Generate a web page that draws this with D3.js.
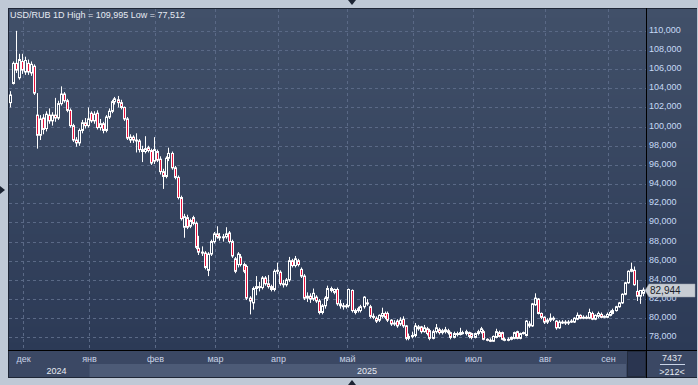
<!DOCTYPE html>
<html>
<head>
<meta charset="utf-8">
<script src="https://cdn.jsdelivr.net/npm/d3@7"></script>
<style>
body { margin: 0; background: #bfc9d6; }
text { font-family: "Liberation Sans", Arial, sans-serif; }
</style>
</head>
<body>
<script>
// daily candles, USD/RUB, 212 bars
var opens = [
102.5,104.5,106.6,105.1,106.8,105.7,106.6,105.6,106.3,101.2,
99.1,100.9,99.8,101.2,100.6,101.2,100.9,102.4,103.4,102.7,
101.7,100.1,98.6,98.3,99.6,100.4,100.1,101.4,100.6,101.4,
99.9,100.3,99.6,101.0,101.6,102.6,102.8,102.5,102.0,100.8,
98.6,98.9,98.6,98.5,97.6,97.4,97.8,97.5,96.4,97.4,
96.6,95.3,94.8,96.7,97.2,95.7,94.7,92.6,89.5,90.5,
89.6,90.5,89.9,87.3,86.9,86.8,85.0,86.7,88.0,88.8,
88.5,88.4,88.5,88.9,88.0,86.2,85.6,86.4,85.6,85.4,
82.1,81.6,83.1,83.3,83.2,84.2,83.6,83.3,83.0,84.9,
84.8,83.6,83.5,84.0,86.0,85.5,86.0,85.1,84.4,82.1,
82.3,82.0,82.2,81.8,80.6,81.3,82.1,83.1,82.7,83.0,
81.5,81.3,81.2,81.3,82.9,80.8,81.0,80.8,81.2,81.6,
81.2,80.2,80.0,79.8,80.2,80.5,80.5,79.8,79.4,79.7,
79.4,79.9,79.2,77.9,78.1,78.2,78.9,79.1,78.6,78.9,
78.7,77.9,78.6,78.8,78.5,78.6,78.7,78.5,78.0,78.4,
78.3,78.5,78.4,78.5,78.4,78.0,78.4,78.6,78.6,77.8,
77.7,77.6,78.0,78.5,78.5,77.8,77.8,77.8,77.9,78.6,
77.9,78.4,78.2,79.4,79.2,81.4,82.0,80.5,80.1,79.6,
79.8,80.0,79.7,79.0,79.6,79.6,79.5,79.6,79.6,79.9,
80.3,80.0,80.1,80.0,80.5,79.9,80.2,80.4,80.1,80.1,
80.3,80.5,80.8,81.2,81.6,82.5,83.7,84.9,85.0,82.8,
82.3,82.6
];
var highs = [
103.7,106.8,109.995,107.6,107.6,107.3,107.0,106.8,106.5,103.5,
101.2,101.3,101.6,101.9,101.5,103.0,102.7,104.2,103.6,102.9,
101.9,100.3,98.9,99.8,100.7,100.9,102.0,101.6,101.6,101.7,
100.8,100.5,101.2,101.9,102.8,103.1,103.2,102.8,102.1,101.0,
99.2,99.1,99.3,98.7,98.0,99.0,98.0,97.7,98.9,97.6,
96.9,95.6,96.9,97.8,97.4,95.9,94.9,92.8,90.9,90.8,
90.4,90.7,90.1,88.6,87.5,87.0,86.9,88.2,89.0,89.6,
88.9,88.8,89.5,89.1,88.2,86.4,86.9,86.7,85.8,85.6,
82.3,83.3,84.4,83.8,84.4,84.4,84.5,83.5,85.1,85.8,
85.0,84.0,84.2,86.4,86.2,86.5,86.2,85.3,84.6,82.7,
82.6,83.1,82.4,82.0,81.5,82.3,83.4,83.3,83.1,83.2,
81.9,81.6,81.5,83.1,83.0,81.0,81.2,81.4,82.3,82.0,
81.4,80.5,80.2,80.4,81.1,80.7,80.7,79.9,79.8,79.9,
80.1,80.2,79.3,78.4,78.6,79.5,79.3,79.2,79.3,79.1,
78.9,78.8,79.4,79.0,78.9,79.1,78.9,78.6,78.6,78.6,
79.0,78.7,78.8,78.6,78.5,78.5,78.8,79.1,78.8,77.9,
77.9,78.2,78.9,78.7,78.6,78.0,78.0,78.1,78.6,78.7,
78.5,78.6,79.8,79.7,81.6,82.6,82.1,80.6,80.2,80.0,
80.5,80.2,79.8,79.8,79.8,79.8,79.8,79.9,80.1,80.6,
80.4,80.3,80.3,81.0,80.7,80.4,80.7,80.6,80.3,80.6,
80.8,81.0,81.3,81.7,82.6,83.8,85.0,85.8,85.4,84.0,
82.9,83.2
];
var lows = [
102.0,104.4,105.6,104.9,105.5,105.4,105.4,105.3,103.3,97.7,
98.6,99.2,99.5,100.3,100.1,100.5,100.7,102.2,102.5,101.5,
99.9,98.4,97.9,98.0,99.3,99.8,99.9,100.4,100.3,99.7,
99.6,99.3,99.4,100.8,101.4,102.3,102.0,101.8,100.6,98.6,
98.3,98.3,97.3,97.3,96.3,97.2,97.3,96.0,96.1,96.3,
95.0,93.5,94.6,96.4,95.5,94.5,92.4,90.2,88.4,89.3,
89.4,89.7,87.2,86.6,86.5,85.1,84.4,86.5,87.8,88.3,
88.1,88.0,88.3,87.8,86.3,84.7,85.3,85.4,84.7,81.9,
80.4,80.9,82.4,82.8,83.0,83.4,83.1,82.8,82.8,84.6,
83.4,83.2,83.3,83.8,85.3,85.3,85.4,84.2,81.9,81.7,
81.6,81.8,81.6,80.4,80.4,81.0,81.8,82.7,82.5,81.3,
81.0,80.9,81.0,81.1,80.6,80.4,80.6,80.6,81.0,81.3,
80.0,79.9,79.5,79.6,80.0,79.9,79.6,79.2,79.2,79.0,
79.2,79.0,77.7,77.7,77.9,78.0,78.7,78.4,78.5,78.2,
77.7,77.8,78.4,78.3,78.3,78.4,78.3,77.8,77.9,78.1,
78.2,78.3,78.2,77.9,77.8,77.9,78.2,78.4,77.7,77.6,
77.512,77.55,77.9,78.0,77.7,77.6,77.6,77.7,77.8,77.8,
77.8,78.3,78.1,79.0,79.1,81.3,80.4,79.9,79.4,79.4,
79.6,79.7,78.8,78.9,79.4,79.3,79.3,79.5,79.5,79.8,
79.9,79.9,79.9,79.9,79.8,79.8,80.0,80.0,80.0,80.0,
80.2,80.4,80.7,81.1,81.5,82.4,83.6,84.8,83.4,81.8,
81.5,82.3
];
var closes = [
103.3,106.6,105.9,107.0,105.9,106.9,105.7,106.5,103.5,99.1,
100.8,99.7,101.3,100.6,101.2,100.9,102.4,103.4,102.7,101.7,
100.1,98.6,98.3,99.6,100.4,100.1,100.8,100.6,101.3,99.9,
100.3,99.6,101.0,101.6,102.6,102.9,102.5,102.0,100.8,98.8,
98.9,98.6,98.5,97.6,97.4,97.7,97.5,96.2,97.6,96.5,
95.3,94.8,96.7,97.2,95.7,94.7,92.6,90.4,90.6,89.5,
90.2,89.9,87.4,86.9,86.8,85.3,86.7,88.0,88.8,88.5,
88.4,88.5,88.8,88.0,86.5,84.9,86.7,85.6,84.9,82.1,
81.8,83.1,83.3,83.2,84.2,83.6,83.3,83.0,84.9,85.0,
83.6,83.5,84.0,86.0,85.5,86.2,85.6,84.4,82.1,82.3,
82.0,82.6,81.8,80.6,81.3,82.1,83.1,82.9,83.0,81.5,
81.3,81.2,81.3,83.0,80.8,80.6,80.8,81.2,82.2,81.5,
80.2,80.1,79.7,80.3,80.5,80.1,79.8,79.4,79.5,79.2,
79.8,79.2,77.9,78.1,78.2,79.2,79.1,78.6,79.0,78.4,
77.9,78.6,79.0,78.5,78.7,78.8,78.5,78.0,78.4,78.3,
78.5,78.5,78.6,78.1,78.0,78.4,78.6,78.9,77.8,77.7,
77.6,78.1,78.6,78.1,77.8,77.8,77.8,78.0,78.5,77.9,
78.4,78.5,79.7,79.2,81.5,82.1,80.5,80.1,79.6,79.8,
80.0,79.9,79.0,79.6,79.6,79.5,79.6,79.7,80.0,80.3,
80.0,80.1,80.1,80.6,79.9,80.3,80.5,80.1,80.2,80.4,
80.6,80.8,81.2,81.6,82.5,83.7,84.9,85.1,83.5,82.3,
82.9,82.944
];

// month labels and the bar index where each month starts
var months = ["дек", "янв", "фев", "мар", "апр", "май", "июн", "июл", "авг", "сен"];
var monthStart = [5, 27, 49, 69, 90, 113, 135, 155, 179, 200];
var years = ["2024", "2025"];
var yearSpan = [[5, 27], [27, 212]];
var yTicks = [78, 80, 82, 84, 86, 88, 90, 92, 94, 96, 98, 100, 102, 104, 106, 108, 110];
var title = "USD/RUB 1D High = 109,995 Low = 77,512";
var barsCount = "7437", visibleBars = ">212<";

var w = 698, h = 385;
var plotLeft = 9, plotRight = 646, plotTop = 9, plotBottom = 350;

var svg = d3.select("body")
	.append("svg")
	.attr("width", w)
	.attr("height", h);

// outer background + little arrows
svg.append("rect").attr("width", w).attr("height", h).attr("fill", "#bfc9d6");
svg.append("path").attr("d", "M348,0 L356,0 L352,5 Z").attr("fill", "#1c2433");
svg.append("path").attr("d", "M348,385 L356,385 L352,380 Z").attr("fill", "#1c2433");
svg.append("path").attr("d", "M0,186 L0,194 L5,190 Z").attr("fill", "#1c2433");

// chart frame
svg.append("rect")
	.attr("x", 8).attr("y", 8)
	.attr("width", 689).attr("height", 370)
	.attr("fill", "#1e2636");

// vertical gradient built from thin strips
var shade = d3.interpolateRgb("#415069", "#2c3a56");
function bgAt(py){
	return shade(Math.max(0, Math.min(1, (py - plotTop) / (plotBottom - plotTop))));
}
svg.append("g")
	.selectAll("rect")
	.data(d3.range(plotTop, plotBottom))
	.enter()
	.append("rect")
	.attr("x", plotLeft)
	.attr("y", function(d){ return d; })
	.attr("width", 688)
	.attr("height", 1)
	.attr("fill", bgAt);

var x = d3.scaleLinear()
	.domain([0, opens.length - 1])
	.range([9.5, 642.5]);

var y = d3.scaleLinear()
	.domain([78, 110])
	.range([337.4, 30.8]);

function gx(i){
	return Math.round(x(i - 0.5)) + 0.5;
}

// grid
var grid = svg.append("g");
grid.selectAll(".hgrid")
	.data(yTicks)
	.enter()
	.append("line")
	.attr("class", "hgrid")
	.attr("x1", plotLeft).attr("x2", plotRight)
	.attr("y1", function(d){ return Math.round(y(d)) + 0.5; })
	.attr("y2", function(d){ return Math.round(y(d)) + 0.5; })
	.attr("stroke", "#5a6986")
	.attr("stroke-dasharray", "3,3");
grid.selectAll(".vgrid")
	.data(monthStart)
	.enter()
	.append("line")
	.attr("class", "vgrid")
	.attr("x1", gx).attr("x2", gx)
	.attr("y1", plotTop).attr("y2", plotBottom)
	.attr("stroke", "#5a6986")
	.attr("stroke-dasharray", "3,3");

// title
svg.append("text")
	.attr("x", 10)
	.attr("y", 18)
	.attr("fill", "#e6eaf2")
	.style("font-size", "9px")
	.text(title);

// candles
var idx = d3.range(opens.length);
var candles = svg.append("g");

candles.selectAll(".wick")
	.data(idx)
	.enter()
	.append("line")
	.attr("class", "wick")
	.attr("x1", function(i){ return Math.round(x(i)) + 0.5; })
	.attr("x2", function(i){ return Math.round(x(i)) + 0.5; })
	.attr("y1", function(i){ return y(highs[i]); })
	.attr("y2", function(i){ return y(lows[i]); })
	.attr("stroke", "#ffffff")
	.attr("stroke-width", 1);

candles.selectAll(".body")
	.data(idx)
	.enter()
	.append("rect")
	.attr("class", "body")
	.attr("x", function(i){ return Math.max(plotLeft + 0.5, Math.round(x(i)) - 0.5); })
	.attr("width", function(i){ return Math.round(x(i)) - 0.5 < plotLeft + 0.5 ? 1 : 2; })
	.attr("y", function(i){ return y(Math.max(opens[i], closes[i])); })
	.attr("height", function(i){ return Math.max(1, Math.abs(y(opens[i]) - y(closes[i]))); })
	.attr("fill", function(i){
		return closes[i] < opens[i] ? "#e8123c" : bgAt(y((opens[i] + closes[i]) / 2));
	})
	.attr("stroke", "#ffffff")
	.attr("stroke-width", 1);

// axis separator
svg.append("line")
	.attr("x1", plotRight + 0.5).attr("x2", plotRight + 0.5)
	.attr("y1", 8).attr("y2", 378)
	.attr("stroke", "#000000");

// bottom panel
svg.append("rect")
	.attr("x", 9).attr("y", plotBottom + 1)
	.attr("width", 688).attr("height", 26)
	.attr("fill", "#3b4864");
svg.append("rect")
	.attr("x", gx(monthStart[1])).attr("y", 364)
	.attr("width", 626 - gx(monthStart[1])).attr("height", 13)
	.attr("fill", "#4d5b77");
svg.append("rect")
	.attr("x", 627.5).attr("y", 351.5)
	.attr("width", 18).attr("height", 25)
	.attr("fill", "#2a3550")
	.attr("stroke", "#222b3d")
	.attr("stroke-width", 1);
svg.append("line")
	.attr("x1", 8).attr("x2", 697)
	.attr("y1", plotBottom + 0.5).attr("y2", plotBottom + 0.5)
	.attr("stroke", "#000000");
svg.append("line")
	.attr("x1", plotRight + 0.5).attr("x2", plotRight + 0.5)
	.attr("y1", plotBottom).attr("y2", 378)
	.attr("stroke", "#000000");

svg.selectAll(".month")
	.data(months)
	.enter()
	.append("text")
	.attr("class", "month")
	.attr("x", function(d, i){ return gx(monthStart[i]); })
	.attr("y", 362)
	.attr("text-anchor", "middle")
	.attr("fill", "#c9d3e6")
	.style("font-size", "9px")
	.text(function(d){ return d; });

svg.selectAll(".year")
	.data(years)
	.enter()
	.append("text")
	.attr("class", "year")
	.attr("x", function(d, i){ return (gx(yearSpan[i][0]) + Math.min(gx(yearSpan[i][1]), plotRight)) / 2; })
	.attr("y", 374)
	.attr("text-anchor", "middle")
	.attr("fill", "#e6eaf2")
	.style("font-size", "9px")
	.text(function(d){ return d; });

// right axis labels
var fmt = d3.format(".3f");
svg.selectAll(".ylab")
	.data(yTicks)
	.enter()
	.append("text")
	.attr("class", "ylab")
	.attr("x", 649)
	.attr("y", function(d){ return y(d) + 2; })
	.attr("fill", "#c6daf6")
	.style("font-size", "9px")
	.text(function(d){ return fmt(d).replace(".", ","); });

// last price marker
var last = closes[closes.length - 1];
var ly = Math.round(y(last)) + 0.5;
svg.append("path")
	.attr("d", "M645," + ly + " L649," + (ly - 6.5) + " L695," + (ly - 6.5) + " L695," + (ly + 6.5) + " L649," + (ly + 6.5) + " Z")
	.attr("fill", "#c8cdd4")
	.attr("stroke", "#9aa2ae")
	.attr("stroke-width", 0.5);
svg.append("text")
	.attr("x", 650)
	.attr("y", ly + 3.5)
	.attr("fill", "#1a1f2a")
	.style("font-size", "10px")
	.text(fmt(last).replace(".", ","));

// bar counter
svg.append("text")
	.attr("x", 672).attr("y", 361)
	.attr("text-anchor", "middle")
	.attr("fill", "#e6eaf2")
	.style("font-size", "9px")
	.text(barsCount);
svg.append("line")
	.attr("x1", 660).attr("x2", 685)
	.attr("y1", 364.5).attr("y2", 364.5)
	.attr("stroke", "#c9d3e6");
svg.append("text")
	.attr("x", 672).attr("y", 375)
	.attr("text-anchor", "middle")
	.attr("fill", "#e6eaf2")
	.style("font-size", "9px")
	.text(visibleBars);
</script>
</body>
</html>
